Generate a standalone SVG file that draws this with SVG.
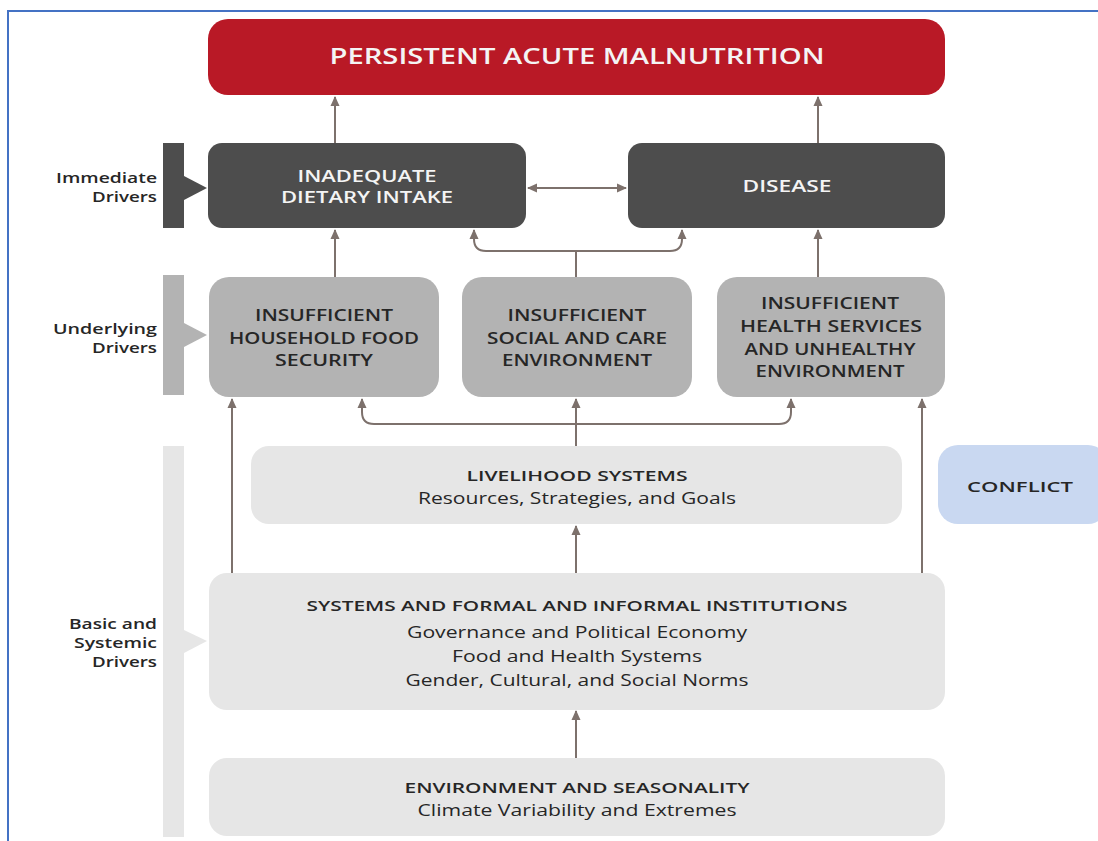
<svg xmlns="http://www.w3.org/2000/svg" width="1098" height="841" viewBox="0 0 1098 841">
<style>
.t{font-family:"Open Sans","Liberation Sans",sans-serif;text-anchor:middle}
.b{font-weight:600}
.lab{font-family:"Open Sans","Liberation Sans",sans-serif;font-weight:600;font-size:15px;fill:#262626;text-anchor:end}
.dk{fill:#262626}
.wt{fill:#f4f4f4}
.con{fill:none;stroke:#7d716c;stroke-width:2}
</style>
<defs>
<marker id="ah" markerUnits="userSpaceOnUse" markerWidth="10" markerHeight="10" viewBox="0 0 10 10" refX="9" refY="5" orient="auto-start-reverse">
<path d="M0,0.5 L10,5 L0,9.5 z" fill="#7d716c"/>
</marker>
</defs>
<rect width="1098" height="841" fill="#ffffff"/>
<g id="frame">
<path d="M8,841 V11 H1098" fill="none" stroke="#4472c4" stroke-width="2"/>
</g>
<g id="side-bars">
<rect x="163" y="143" width="21" height="85" fill="#4d4d4d"/>
<path d="M184,176 L207,188 L184,200 z" fill="#4d4d4d"/>
<rect x="163" y="275" width="21" height="120" fill="#b3b3b3"/>
<path d="M184,323 L207,335 L184,347 z" fill="#b3b3b3"/>
<rect x="163" y="446" width="21" height="391" fill="#e6e6e6"/>
<path d="M184,630 L207,641 L184,653 z" fill="#e6e6e6"/>
</g>
<g id="labels">
<text class="lab" x="157" y="183" textLength="101" lengthAdjust="spacingAndGlyphs">Immediate</text>
<text class="lab" x="157" y="202" textLength="65" lengthAdjust="spacingAndGlyphs">Drivers</text>
<text class="lab" x="157" y="334" textLength="104" lengthAdjust="spacingAndGlyphs">Underlying</text>
<text class="lab" x="157" y="353" textLength="65" lengthAdjust="spacingAndGlyphs">Drivers</text>
<text class="lab" x="157" y="629" textLength="88" lengthAdjust="spacingAndGlyphs">Basic and</text>
<text class="lab" x="157" y="648" textLength="83" lengthAdjust="spacingAndGlyphs">Systemic</text>
<text class="lab" x="157" y="667" textLength="65" lengthAdjust="spacingAndGlyphs">Drivers</text>
</g>
<g id="connectors">
<line class="con" x1="335" y1="143" x2="335" y2="97" marker-end="url(#ah)"/>
<line class="con" x1="818" y1="143" x2="818" y2="97" marker-end="url(#ah)"/>
<line class="con" x1="528" y1="188" x2="626" y2="188" marker-start="url(#ah)" marker-end="url(#ah)"/>
<line class="con" x1="335" y1="277" x2="335" y2="230" marker-end="url(#ah)"/>
<line class="con" x1="818" y1="277" x2="818" y2="230" marker-end="url(#ah)"/>
<path class="con" d="M576,277 V251 H486 Q474,251 474,239 V230" marker-end="url(#ah)"/>
<path class="con" d="M576,251 H670 Q682,251 682,239 V230" marker-end="url(#ah)"/>
<line class="con" x1="576" y1="446" x2="576" y2="399" marker-end="url(#ah)"/>
<path class="con" d="M576,424 H374 Q362,424 362,412 V399" marker-end="url(#ah)"/>
<path class="con" d="M576,424 H779 Q791,424 791,412 V399" marker-end="url(#ah)"/>
<line class="con" x1="232" y1="573" x2="232" y2="399" marker-end="url(#ah)"/>
<line class="con" x1="922" y1="573" x2="922" y2="399" marker-end="url(#ah)"/>
<line class="con" x1="576" y1="573" x2="576" y2="526" marker-end="url(#ah)"/>
<line class="con" x1="576" y1="758" x2="576" y2="711" marker-end="url(#ah)"/>
</g>
<g id="n-persistent">
<rect x="208" y="19" width="737" height="76" rx="20" fill="#b91926"/>
<text class="t b wt" x="577" y="64" font-size="21" textLength="495" lengthAdjust="spacingAndGlyphs">PERSISTENT ACUTE MALNUTRITION</text>
</g>
<g id="n-dietary">
<rect x="208" y="143" width="318" height="85" rx="14" fill="#4d4d4d"/>
<text class="t b wt" x="367" y="182" font-size="16" textLength="139" lengthAdjust="spacingAndGlyphs">INADEQUATE</text>
<text class="t b wt" x="367" y="203" font-size="16" textLength="172" lengthAdjust="spacingAndGlyphs">DIETARY INTAKE</text>
</g>
<g id="n-disease">
<rect x="628" y="143" width="317" height="85" rx="14" fill="#4d4d4d"/>
<text class="t b wt" x="787" y="192" font-size="16" textLength="89" lengthAdjust="spacingAndGlyphs">DISEASE</text>
</g>
<g id="n-household">
<rect x="209" y="277" width="230" height="120" rx="20" fill="#b3b3b3"/>
<text class="t b dk" x="324" y="321" font-size="15.5" textLength="138" lengthAdjust="spacingAndGlyphs">INSUFFICIENT</text>
<text class="t b dk" x="324" y="344" font-size="15.5" textLength="190" lengthAdjust="spacingAndGlyphs">HOUSEHOLD FOOD</text>
<text class="t b dk" x="324" y="366" font-size="15.5" textLength="98" lengthAdjust="spacingAndGlyphs">SECURITY</text>
</g>
<g id="n-social">
<rect x="462" y="277" width="230" height="120" rx="20" fill="#b3b3b3"/>
<text class="t b dk" x="577" y="321" font-size="15.5" textLength="139" lengthAdjust="spacingAndGlyphs">INSUFFICIENT</text>
<text class="t b dk" x="577" y="344" font-size="15.5" textLength="180" lengthAdjust="spacingAndGlyphs">SOCIAL AND CARE</text>
<text class="t b dk" x="577" y="366" font-size="15.5" textLength="150" lengthAdjust="spacingAndGlyphs">ENVIRONMENT</text>
</g>
<g id="n-health">
<rect x="717" y="277" width="228" height="120" rx="20" fill="#b3b3b3"/>
<text class="t b dk" x="830" y="309" font-size="15.5" textLength="138" lengthAdjust="spacingAndGlyphs">INSUFFICIENT</text>
<text class="t b dk" x="831" y="332" font-size="15.5" textLength="182" lengthAdjust="spacingAndGlyphs">HEALTH SERVICES</text>
<text class="t b dk" x="830" y="355" font-size="15.5" textLength="171" lengthAdjust="spacingAndGlyphs">AND UNHEALTHY</text>
<text class="t b dk" x="830" y="377" font-size="15.5" textLength="149" lengthAdjust="spacingAndGlyphs">ENVIRONMENT</text>
</g>
<g id="n-livelihood">
<rect x="251" y="446" width="651" height="78" rx="18" fill="#e6e6e6"/>
<text class="t b dk" x="577" y="481" font-size="15" textLength="221" lengthAdjust="spacingAndGlyphs">LIVELIHOOD SYSTEMS</text>
<text class="t dk" x="577" y="504" font-size="16" textLength="318" lengthAdjust="spacingAndGlyphs">Resources, Strategies, and Goals</text>
</g>
<g id="n-conflict">
<rect x="938" y="445" width="170" height="79" rx="20" fill="#c9d8f1"/>
<text class="t b dk" x="1020" y="492" font-size="15" textLength="106" lengthAdjust="spacingAndGlyphs">CONFLICT</text>
</g>
<g id="n-systems">
<rect x="209" y="573" width="736" height="137" rx="18" fill="#e6e6e6"/>
<text class="t b dk" x="577" y="611" font-size="15" textLength="541" lengthAdjust="spacingAndGlyphs">SYSTEMS AND FORMAL AND INFORMAL INSTITUTIONS</text>
<text class="t dk" x="577" y="638" font-size="16" textLength="340" lengthAdjust="spacingAndGlyphs">Governance and Political Economy</text>
<text class="t dk" x="577" y="662" font-size="16" textLength="250" lengthAdjust="spacingAndGlyphs">Food and Health Systems</text>
<text class="t dk" x="577" y="686" font-size="16" textLength="343" lengthAdjust="spacingAndGlyphs">Gender, Cultural, and Social Norms</text>
</g>
<g id="n-environment">
<rect x="209" y="758" width="736" height="78" rx="18" fill="#e6e6e6"/>
<text class="t b dk" x="577" y="793" font-size="15" textLength="345" lengthAdjust="spacingAndGlyphs">ENVIRONMENT AND SEASONALITY</text>
<text class="t dk" x="577" y="816" font-size="16" textLength="319" lengthAdjust="spacingAndGlyphs">Climate Variability and Extremes</text>
</g>
</svg>
